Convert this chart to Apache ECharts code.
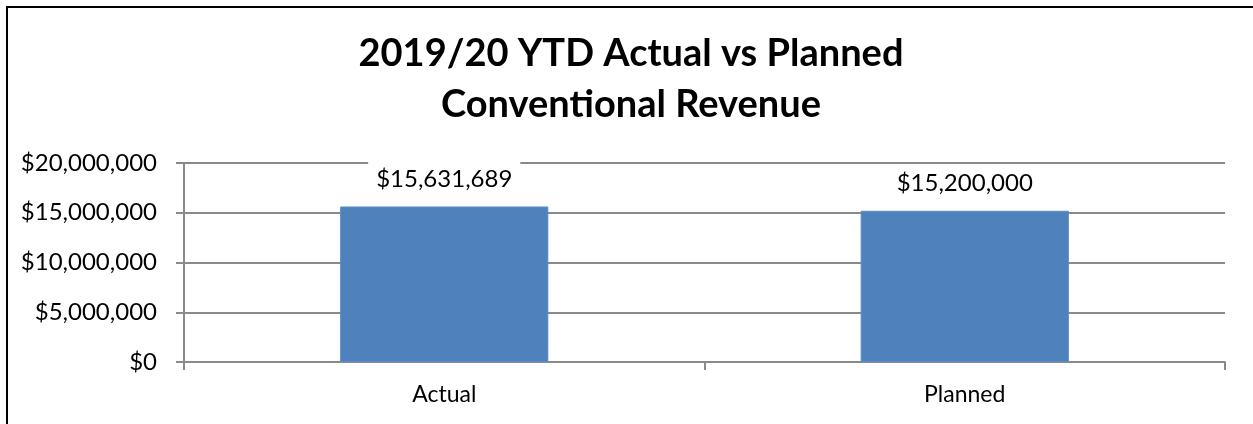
<!DOCTYPE html>
<html>
<head>
<meta charset="utf-8">
<script src="https://cdn.jsdelivr.net/npm/echarts@6/dist/echarts.min.js"></script>
<style>
  html, body { margin: 0; padding: 0; background: #fff; }
  #chart { position: absolute; left: 0; top: 0; width: 1253px; height: 424px; }
  #frame {
    position: absolute; left: 6px; top: 6px; width: 1247px; height: 418px;
    border-left: 2px solid #000; border-top: 2px solid #000;
    box-sizing: border-box; pointer-events: none;
  }
</style>
</head>
<body>
<div id="chart"></div>
<div id="frame"></div>
<script>
// data
var categories = ['Actual', 'Planned'];
var revenue = [15631689, 15200000];
var titleLines = ['2019/20 YTD Actual vs Planned', 'Conventional Revenue'];

var fontName = 'Lato';
var gridColor = '#8a8a8a';

function money(v) {
  return '$' + Math.round(v).toString().replace(/\B(?=(\d{3})+(?!\d))/g, ',');
}

var chart = echarts.init(document.getElementById('chart'));

var option = {
  animation: false,
  title: {
    text: titleLines.join('\n'),
    left: 626,
    top: 23,
    textAlign: 'center',
    textStyle: {
      fontFamily: fontName,
      fontWeight: 'bold',
      fontSize: 38,
      lineHeight: 51,
      color: '#000'
    }
  },
  grid: {
    left: 184,
    right: 28,
    top: 163,
    bottom: 62
  },
  xAxis: {
    type: 'category',
    data: categories,
    axisLine: { lineStyle: { color: gridColor, width: 2 } },
    axisTick: { show: true, length: 8, lineStyle: { color: gridColor, width: 2 } },
    axisLabel: {
      fontFamily: fontName,
      fontSize: 23,
      color: '#000',
      margin: 21
    }
  },
  yAxis: {
    type: 'value',
    min: 0,
    max: 20000000,
    interval: 5000000,
    axisLine: { show: true, lineStyle: { color: gridColor, width: 2 } },
    axisTick: { show: true, length: 8, lineStyle: { color: gridColor, width: 2 } },
    splitLine: { lineStyle: { color: gridColor, width: 2 } },
    axisLabel: {
      fontFamily: fontName,
      fontSize: 24,
      color: '#000',
      margin: 27,
      formatter: function (v) { return money(v); }
    }
  },
  series: [{
    type: 'bar',
    data: revenue,
    barWidth: '40%',
    itemStyle: { color: '#4f81bd', borderColor: '#5b8dc6', borderWidth: 1 },
    label: {
      show: true,
      position: 'top',
      distance: 8,
      fontFamily: fontName,
      fontSize: 24,
      lineHeight: 24,
      color: '#000',
      backgroundColor: '#fff',
      padding: [7, 8],
      formatter: function (p) { return money(p.value); }
    }
  }]
};

chart.setOption(option);
</script>
</body>
</html>
